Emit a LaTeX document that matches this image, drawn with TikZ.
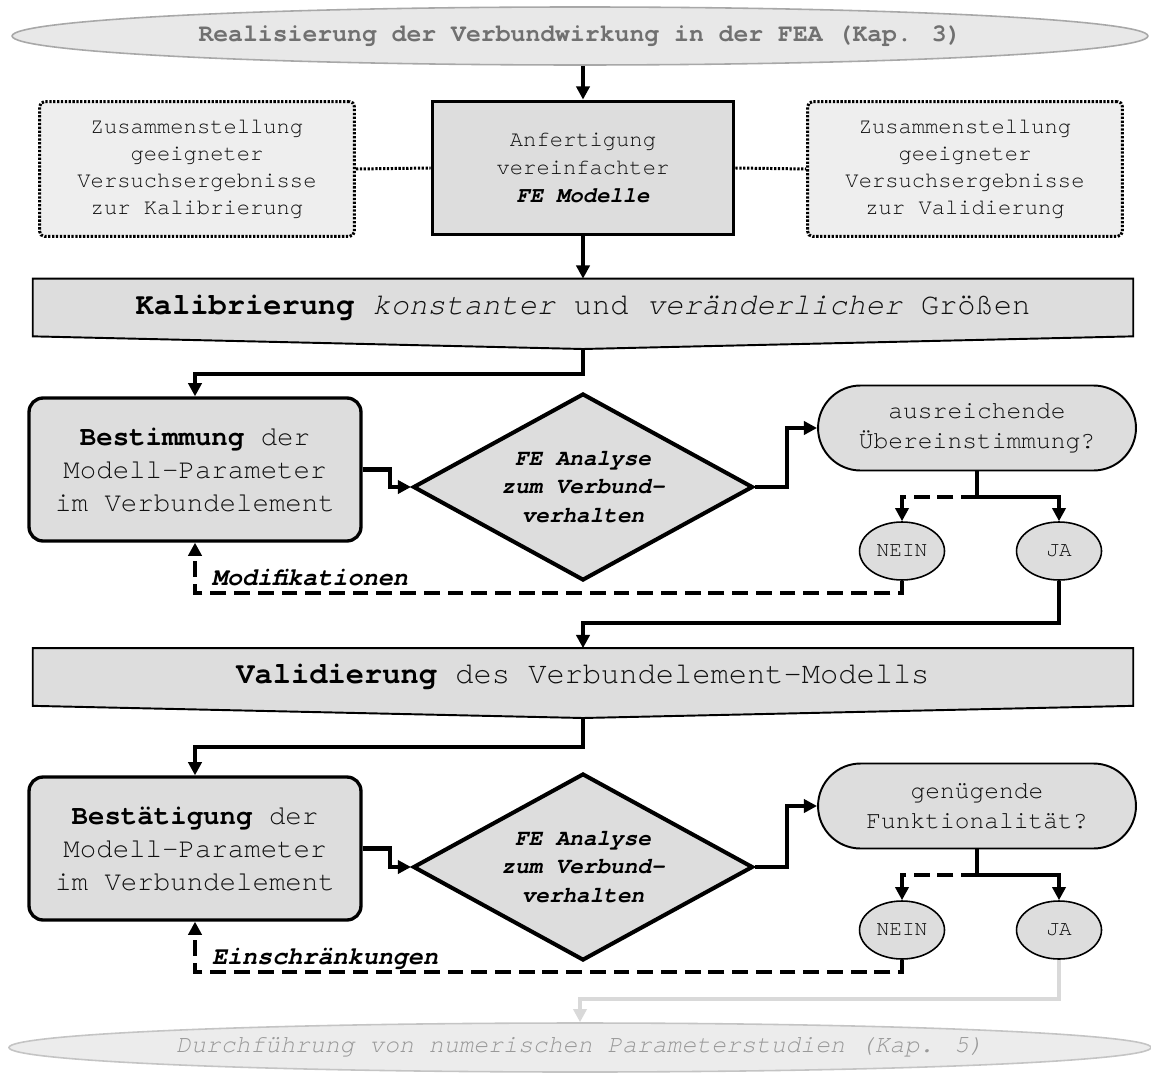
\documentclass[tikz,border=0pt]{standalone}
\usepackage{fontspec}
\setmainfont{texgyrecursor}[Extension=.otf, UprightFont=*-regular, BoldFont=*-bold, ItalicFont=*-italic, BoldItalicFont=*-bolditalic]
\usepackage{tikz}
\usetikzlibrary{arrows.meta,calc,shapes.geometric,shapes.misc,backgrounds}
\definecolor{BoxGray}{HTML}{DDDDDD}
\definecolor{NoteGray}{HTML}{EEEEEE}
\definecolor{TextGray}{HTML}{101010}
\definecolor{ChapFill}{HTML}{E8E8E8}
\definecolor{ChapLine}{HTML}{A8A8A8}
\definecolor{ChapText}{HTML}{707070}
\definecolor{NextFill}{HTML}{ECECEC}
\definecolor{NextLine}{HTML}{C4C4C4}
\definecolor{NextText}{HTML}{999999}
\definecolor{NextArrow}{HTML}{D9D9D9}
\newcommand{\kw}[1]{\textcolor{black}{\textbf{#1}}}

\begin{document}
\begin{tikzpicture}[x=0.02cm, y=-0.02cm, >={Triangle[length=7.5pt,width=7.5pt]},
  every node/.style={align=center, inner sep=0pt, text=TextGray},
  chapter/.style={ellipse, line width=0.9pt, minimum width=22.72cm},
  notebox/.style={draw, fill=NoteGray, rounded corners=3pt, line width=1.7pt, dash pattern=on 1.3pt off 0.9pt, minimum width=6.3cm, minimum height=2.7cm, font=\fontsize{12.6}{15.4}\selectfont},
  mainbox/.style={draw, fill=BoxGray, line width=2.2pt, minimum width=6.02cm, minimum height=2.66cm, font=\fontsize{12.6}{16}\selectfont},
  banner/.style={minimum width=22cm, minimum height=1.14cm, font=\fontsize{17.3}{20}\selectfont},
  stepbox/.style={draw, fill=BoxGray, rounded corners=8pt, line width=1.9pt, minimum width=6.64cm, minimum height=2.86cm, font=\fontsize{15.6}{18.8}\selectfont},
  analysis/.style={diamond, aspect=1.8, draw, fill=BoxGray, line width=2.3pt, minimum width=6.8cm, minimum height=3.74cm, text=black, font=\fontsize{12.9}{16.2}\selectfont\bfseries\itshape},
  query/.style={rounded rectangle, draw, fill=BoxGray, line width=1.1pt, minimum width=6.36cm, minimum height=1.7cm, font=\fontsize{14}{17.2}\selectfont},
  answer/.style={ellipse, draw, fill=BoxGray, line width=0.9pt, minimum width=1.7cm, minimum height=1.16cm, font=\fontsize{12}{14}\selectfont},
  flow/.style={->, line width=2.3pt},
  back/.style={flow, dash pattern=on 9pt off 4.5pt},
  link/.style={line width=1.7pt, dash pattern=on 1.3pt off 0.9pt},
  remark/.style={text=black, font=\fontsize{14.3}{17}\selectfont\bfseries\itshape}]
  \useasboundingbox (0,0) rectangle (1151,1074);

  % preparation
  \node[chapter, draw=ChapLine, fill=ChapFill, text=ChapText, minimum height=1.16cm, font=\fontsize{14.1}{17}\selectfont\bfseries] (kap3) at (580,36) {Realisierung der Verbundwirkung in der FEA (Kap. 3)};
  \node[mainbox] (fem) at (583,168) {Anfertigung\\vereinfachter\\{\color{black}\bfseries\itshape FE Modelle}};
  \node[notebox] (kalv) at (197,169) {Zusammenstellung\\geeigneter\\Versuchsergebnisse\\zur Kalibrierung};
  \node[notebox] (valv) at (965,169) {Zusammenstellung\\geeigneter\\Versuchsergebnisse\\zur Validierung};

  % calibration loop
  \node[banner] (kalib) at (583,307.5) {\kw{Kalibrierung} \textit{konstanter} und \textit{veränderlicher} Größen};
  \coordinate (kalib-tip) at (583,349);
  \node[stepbox] (best) at (195,469.5) {\kw{Bestimmung} der\\Modell-Parameter\\im Verbundelement};
  \node[analysis] (fea1) at (583,487) {FE Analyse\\zum Verbund-\\verhalten};
  \node[query] (ok1) at (977,428) {ausreichende\\Übereinstimmung?};
  \node[answer] (nein1) at (902,551) {NEIN};
  \node[answer] (ja1) at (1059,551) {JA};

  % validation loop
  \node[banner] (valid) at (583,677) {\kw{Validierung} des Verbundelement-Modells};
  \coordinate (valid-tip) at (583,718);
  \node[stepbox] (best2) at (195,848.5) {\kw{Bestätigung} der\\Modell-Parameter\\im Verbundelement};
  \node[analysis] (fea2) at (583,867) {FE Analyse\\zum Verbund-\\verhalten};
  \node[query] (ok2) at (977,806) {genügende\\Funktionalität?};
  \node[answer] (nein2) at (902,930) {NEIN};
  \node[answer] (ja2) at (1059,930) {JA};

  \node[chapter, draw=NextLine, fill=NextFill, text=NextText, minimum height=0.98cm, font=\fontsize{14.1}{17}\selectfont\itshape] (kap5) at (580,1047.5) {Durchführung von numerischen Parameterstudien (Kap. 5)};

  \begin{scope}[on background layer]
    \filldraw[fill=BoxGray, line width=1.1pt] (kalib.north west) -- (kalib.north east) -- (kalib.south east) -- (kalib-tip) -- (kalib.south west) -- cycle;
    \filldraw[fill=BoxGray, line width=1.1pt] (valid.north west) -- (valid.north east) -- (valid.south east) -- (valid-tip) -- (valid.south west) -- cycle;
  \end{scope}

  \draw[flow] (kap3.south -| fem.north) -- (fem.north);
  \draw[link] (kalv.east) -- (fem.west);
  \draw[link] (fem.east) -- (valv.west);
  \draw[flow] (fem.south) -- (kalib.north);

  \draw[flow] (kalib-tip) -- ++(0,25) -| (best.north);
  \draw[flow] (best.east) -- ++(27,0) |- (fea1.west);
  \draw[flow] (fea1.east) -- ++(32,0) |- (ok1.west);
  \draw[line width=2.3pt] (ok1.south) -- ++(0,26) coordinate (split1);
  \draw[flow] (split1) -| (ja1.north);
  \draw[back] (split1) -| (nein1.north);
  \draw[back] (nein1.south) -- ++(0,12) -| node[pos=0.5, remark, anchor=base west, xshift=0.3cm, yshift=0.14cm] {Modifikationen} (best.south);
  \draw[flow] (ja1.south) -- ++(0,42) -| (valid.north);

  \draw[flow] (valid-tip) -- ++(0,29) -| (best2.north);
  \draw[flow] (best2.east) -- ++(27,0) |- (fea2.west);
  \draw[flow] (fea2.east) -- ++(32,0) |- (ok2.west);
  \draw[line width=2.3pt] (ok2.south) -- ++(0,26) coordinate (split2);
  \draw[flow] (split2) -| (ja2.north);
  \draw[back] (split2) -| (nein2.north);
  \draw[back] (nein2.south) -- ++(0,12) -| node[pos=0.5, remark, anchor=base west, xshift=0.3cm, yshift=0.14cm] {Einschränkungen} (best2.south);
  \draw[flow, NextArrow, line width=2pt] (ja2.south) -- ++(0,39) -| (kap5.north);
\end{tikzpicture}
\end{document}
